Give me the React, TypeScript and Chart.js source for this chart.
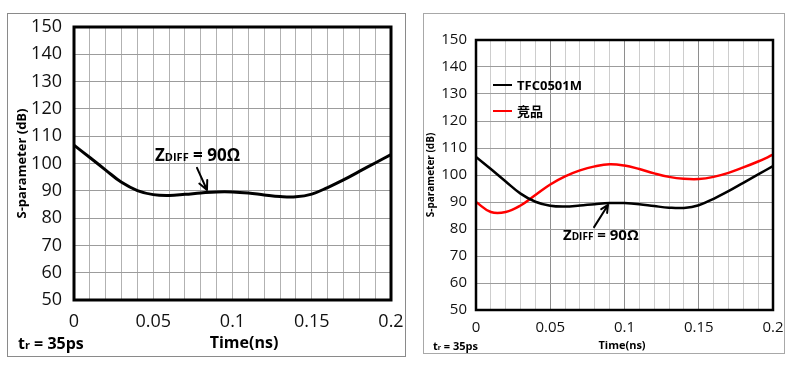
import React, { useEffect, useRef } from 'react';
import { Chart, registerables } from 'chart.js';

Chart.register(...registerables);

// ---------- data ----------
const timeNs = [0, 0.01, 0.02, 0.03, 0.04, 0.05, 0.06, 0.07, 0.08, 0.09, 0.1, 0.11, 0.12, 0.13, 0.14, 0.15, 0.16, 0.17, 0.18, 0.19, 0.2];
const tfc0501m = [106.7, 102.2, 97.6, 93.1, 90.1, 88.6, 88.3, 88.7, 89.2, 89.6, 89.6, 89.2, 88.5, 87.9, 87.8, 88.8, 91.2, 94.0, 97.1, 100.2, 103.3];
const competitor = [90.0, 86.3, 86.3, 88.7, 92.6, 96.5, 99.5, 101.7, 103.2, 104.0, 103.5, 102.2, 100.6, 99.3, 98.6, 98.5, 99.3, 100.8, 102.8, 105.0, 107.5];
const xTickLabels = ['0', '0.05', '0.1', '0.15', '0.2'];
const yTickLabels = ['50', '60', '70', '80', '90', '100', '110', '120', '130', '140', '150'];
const seriesNames = ['TFC0501M', '竞品'];
const seriesColors = ['#000000', '#ff0000'];
const xTitle = 'Time(ns)';
const yTitle = 'S-parameter (dB)';
// annotation positions in data units: text start, arrow tail, arrow tip
const leftNote = { text: [0.0511, 103.1], tail: [0.0776, 98.4], tip: [0.0839, 90.3] };
const rightNote = { text: [0.0586, 77.8], tail: [0.0795, 80.7], tip: [0.0889, 88.9] };

const BOLD = '"Open Sans", "Noto Sans CJK SC", sans-serif';
const REG = '"Open Sans", sans-serif';

type PanelCfg = {
  boxLeft: number; boxTop: number; canvasW: number; canvasH: number; boxColor: string;
  padTop: number; padRight: number; yWidth: number; xHeight: number;
  tickFont: number; tickPadY: number; tickPadX: number;
  yTitleFont: number; yTitlePad: number;
  xTitleFont: number; xTitlePos: [number, number];
  trPos: [number, number];
  noteFont: number; noteSub: number; arrowHead: number;
  lineWidth: number; frameWidth: number;
  minorGrid: string; majorGrid: string; hGrid: string;
  series: number[]; legend: null | { x: number; y: number[]; len: number; font: number };
  note: { text: number[]; tail: number[]; tip: number[] };
};

const seriesData = [tfc0501m, competitor];

function drawSubText(ctx: CanvasRenderingContext2D, x: number, cy: number, big: number, small: number, a: string, sub: string, rest: string, drop: number) {
  ctx.save();
  ctx.fillStyle = '#000';
  ctx.textBaseline = 'alphabetic';
  ctx.textAlign = 'left';
  const base = cy + big * 0.36;
  ctx.font = `bold ${big}px ${BOLD}`;
  ctx.fillText(a, x, base);
  let cx = x + ctx.measureText(a).width;
  ctx.font = `bold ${small}px ${BOLD}`;
  ctx.fillText(sub, cx, base + drop);
  cx += ctx.measureText(sub).width;
  ctx.font = `bold ${big}px ${BOLD}`;
  ctx.fillText(rest, cx, base);
  ctx.restore();
}

function zeroPad(s: any) {
  s.paddingTop = 0;
  s.paddingBottom = 0;
  s.paddingLeft = 0;
  s.paddingRight = 0;
}

function buildConfig(cfg: PanelCfg): any {
  const extras = {
    id: 'extras',
    afterDatasetsDraw(chart: any) {
      const { ctx, chartArea: a } = chart;
      ctx.save();
      ctx.strokeStyle = '#000';
      ctx.lineWidth = cfg.frameWidth;
      ctx.strokeRect(a.left, a.top, a.right - a.left, a.bottom - a.top);
      ctx.restore();
    },
    afterDraw(chart: any) {
      const { ctx } = chart;
      const xs = chart.scales.x;
      const ys = chart.scales.y;
      // x title
      ctx.save();
      ctx.fillStyle = '#000';
      ctx.font = `bold ${cfg.xTitleFont}px ${BOLD}`;
      ctx.textAlign = 'center';
      ctx.textBaseline = 'middle';
      ctx.fillText(xTitle, cfg.xTitlePos[0], cfg.xTitlePos[1]);
      ctx.restore();
      // t_r = 35ps
      drawSubText(ctx, cfg.trPos[0], cfg.trPos[1], cfg.xTitleFont, Math.round(cfg.xTitleFont * 0.68), 't', 'r', ' = 35ps', 0);
      // annotation
      const n = cfg.note;
      drawSubText(ctx, xs.getPixelForValue(n.text[0]), ys.getPixelForValue(n.text[1]), cfg.noteFont, cfg.noteSub, 'Z', 'DIFF', ' = 90Ω', 0);
      const x1 = xs.getPixelForValue(n.tail[0]), y1 = ys.getPixelForValue(n.tail[1]);
      const x2 = xs.getPixelForValue(n.tip[0]), y2 = ys.getPixelForValue(n.tip[1]);
      ctx.save();
      ctx.strokeStyle = '#000';
      ctx.lineWidth = 2;
      ctx.lineCap = 'round';
      ctx.beginPath();
      ctx.moveTo(x1, y1);
      ctx.lineTo(x2, y2);
      const ang = Math.atan2(y2 - y1, x2 - x1);
      const h = cfg.arrowHead;
      ctx.moveTo(x2, y2);
      ctx.lineTo(x2 - h * Math.cos(ang - 0.45), y2 - h * Math.sin(ang - 0.45));
      ctx.moveTo(x2, y2);
      ctx.lineTo(x2 - h * Math.cos(ang + 0.45), y2 - h * Math.sin(ang + 0.45));
      ctx.stroke();
      ctx.restore();
      // legend
      if (cfg.legend) {
        const L = cfg.legend;
        chart.data.datasets.forEach((ds: any, i: number) => {
          ctx.save();
          ctx.strokeStyle = ds.borderColor;
          ctx.lineWidth = 2;
          ctx.beginPath();
          ctx.moveTo(L.x, L.y[i]);
          ctx.lineTo(L.x + L.len, L.y[i]);
          ctx.stroke();
          ctx.fillStyle = '#000';
          ctx.font = `bold ${L.font}px ${BOLD}`;
          ctx.textBaseline = 'middle';
          ctx.textAlign = 'left';
          ctx.fillText(ds.label, L.x + L.len + 5, L.y[i] + 1);
          ctx.restore();
        });
      }
    },
  };

  const datasets = cfg.series.map((si) => ({
    label: seriesNames[si],
    data: timeNs.map((t, i) => ({ x: t, y: seriesData[si][i] })),
    borderColor: seriesColors[si],
    backgroundColor: seriesColors[si],
    borderWidth: cfg.lineWidth,
    pointRadius: 0,
    pointHoverRadius: 0,
    tension: 0.4,
    fill: false,
  }));

  const isMajor = (v: number) => Math.abs(v * 20 - Math.round(v * 20)) < 1e-6;

  return {
    type: 'line',
    data: { datasets },
    plugins: [extras],
    options: {
      animation: false,
      responsive: false,
      devicePixelRatio: 1,
      events: [],
      layout: { padding: { top: cfg.padTop, right: cfg.padRight, left: 0, bottom: 0 } },
      plugins: { legend: { display: false }, tooltip: { enabled: false } },
      scales: {
        x: {
          type: 'linear',
          min: 0,
          max: 0.2,
          afterFit: (s: any) => { s.height = cfg.xHeight; zeroPad(s); },
          border: { display: false },
          grid: {
            drawTicks: false,
            lineWidth: 1,
            color: (c: any) => (c.tick && isMajor(c.tick.value) ? cfg.majorGrid : cfg.minorGrid),
          },
          ticks: {
            stepSize: 0.01,
            autoSkip: false,
            maxRotation: 0,
            padding: cfg.tickPadX,
            color: '#111',
            font: { family: REG, size: cfg.tickFont },
            callback: (v: number) => (isMajor(v) ? xTickLabels[Math.round(v * 20)] : ''),
          },
        },
        y: {
          min: 50,
          max: 150,
          afterFit: (s: any) => { s.width = cfg.yWidth; zeroPad(s); },
          border: { display: false },
          grid: { drawTicks: false, color: cfg.hGrid, lineWidth: 1 },
          ticks: {
            stepSize: 10,
            padding: cfg.tickPadY,
            color: '#111',
            font: { family: REG, size: cfg.tickFont },
            callback: (v: number) => yTickLabels[Math.round((v - 50) / 10)],
          },
          title: {
            display: true,
            text: yTitle,
            color: '#000',
            font: { family: BOLD, size: cfg.yTitleFont, weight: 'bold' },
            padding: { top: cfg.yTitlePad, bottom: 0 },
          },
        },
      },
    },
  };
}

const leftCfg: PanelCfg = {
  boxLeft: 7, boxTop: 13, canvasW: 397, canvasH: 342, boxColor: '#8a8a8a',
  padTop: 13, padRight: 14, yWidth: 66, xHeight: 56,
  tickFont: 18, tickPadY: 12, tickPadX: 11,
  yTitleFont: 13, yTitlePad: 6,
  xTitleFont: 16, xTitlePos: [236, 329], trPos: [10, 329],
  noteFont: 17, noteSub: 11, arrowHead: 10,
  lineWidth: 3, frameWidth: 3,
  minorGrid: '#b2b2b2', majorGrid: '#b2b2b2', hGrid: '#9c9c9c',
  series: [0], legend: null, note: leftNote,
};

const rightCfg: PanelCfg = {
  boxLeft: 423, boxTop: 13, canvasW: 360, canvasH: 339, boxColor: '#a8a8a8',
  padTop: 26, padRight: 11, yWidth: 52, xHeight: 43,
  tickFont: 15, tickPadY: 9, tickPadX: 9,
  yTitleFont: 10, yTitlePad: 1.5,
  xTitleFont: 11, xTitlePos: [198, 332], trPos: [9, 332],
  noteFont: 15, noteSub: 10, arrowHead: 8,
  lineWidth: 2.5, frameWidth: 2.5,
  minorGrid: '#cdcdcd', majorGrid: '#8e8e8e', hGrid: '#9c9c9c',
  series: [0, 1], legend: { x: 69, y: [71, 97], len: 19, font: 13 }, note: rightNote,
};

function Panel({ cfg }: { cfg: PanelCfg }) {
  const ref = useRef<HTMLCanvasElement>(null);
  useEffect(() => {
    const chart = new Chart(ref.current as HTMLCanvasElement, buildConfig(cfg));
    return () => chart.destroy();
  }, [cfg]);
  return (
    <div
      style={{
        position: 'absolute',
        left: cfg.boxLeft,
        top: cfg.boxTop,
        width: cfg.canvasW,
        height: cfg.canvasH,
        border: `1px solid ${cfg.boxColor}`,
      }}
    >
      <canvas
        ref={ref}
        width={cfg.canvasW}
        height={cfg.canvasH}
        style={{ display: 'block', width: cfg.canvasW, height: cfg.canvasH }}
      />
    </div>
  );
}

export default function App() {
  return (
    <div
      style={{
        position: 'fixed',
        left: 0,
        top: 0,
        width: 787,
        height: 366,
        background: '#fff',
        overflow: 'hidden',
      }}
    >
      <Panel cfg={leftCfg} />
      <Panel cfg={rightCfg} />
    </div>
  );
}
